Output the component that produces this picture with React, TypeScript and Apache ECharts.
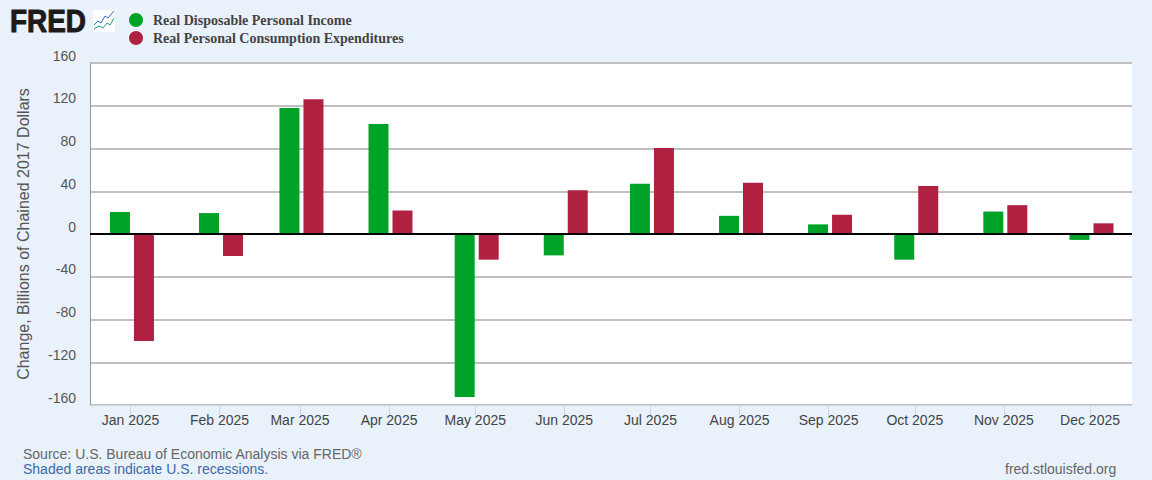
import React, { useEffect, useRef } from "react";
import * as echarts from "echarts";

const monthStarts = ["2025-01-01","2025-02-01","2025-03-01","2025-04-01","2025-05-01","2025-06-01","2025-07-01","2025-08-01","2025-09-01","2025-10-01","2025-11-01","2025-12-01"];
const monthLabels = ["Jan 2025","Feb 2025","Mar 2025","Apr 2025","May 2025","Jun 2025","Jul 2025","Aug 2025","Sep 2025","Oct 2025","Nov 2025","Dec 2025"];
const incomeValues = [20.6,19.6,118,103,-152.5,-20,47,17,9,-24,21,-5.5];
const spendingValues = [-100,-20.6,126,22,-24,41,80.5,48,18,45,27,10];
const incomeName = "Real Disposable Personal Income";
const spendingName = "Real Personal Consumption Expenditures";

const ts = (s: string) => new Date(s + "T00:00:00Z").getTime();
const barTime = (s: string) => new Date(s + "T12:00:00Z").getTime();
const labelByTime = new Map(monthStarts.map((m, i) => [ts(m), monthLabels[i]]));

export default function App() {
  const ref = useRef<HTMLDivElement>(null);
  useEffect(() => {
    document.body.style.margin = "0";
    const chart = echarts.init(ref.current!, undefined, { renderer: "svg" });
    const sans = "'Liberation Sans', Arial, sans-serif";
    chart.setOption({
      animation: false,
      backgroundColor: "#e9f1fa",
      grid: { left: 90, right: 20, top: 63, bottom: 75, show: true, backgroundColor: "#ffffff", borderWidth: 0 },
      legend: {
        orient: "vertical", left: 124, top: 8, itemWidth: 14, itemHeight: 14, itemGap: 4, icon: "circle",
        selectedMode: false,
        textStyle: { fontFamily: "'Liberation Serif', 'Times New Roman', serif", fontWeight: "bold", fontSize: 14, color: "#444444", padding: [0, 0, 0, 5] },
        data: [incomeName, spendingName],
      },
      xAxis: {
        type: "value",
        scale: true,
        min: ts("2025-01-01") - 14.1 * 86400000,
        max: ts("2025-12-01") + 14.6 * 86400000,
        axisLine: { onZero: false, lineStyle: { color: "#ccd6eb", width: 1 } },
        axisTick: { show: true, length: 10, lineStyle: { color: "#ccd6eb" }, customValues: monthStarts.map(ts) },
        splitLine: { show: false },
        axisLabel: {
          customValues: monthStarts.map(ts), fontFamily: sans, fontSize: 14, color: "#444444", margin: 8, hideOverlap: false,
          formatter: (v: number) => labelByTime.get(v) ?? "",
        },
      },
      yAxis: {
        type: "value", min: -160, max: 160, interval: 40,
        name: "Change, Billions of Chained 2017 Dollars", nameLocation: "middle", nameGap: 59, nameRotate: 90,
        nameTextStyle: { fontFamily: sans, fontSize: 16, color: "#555555" },
        axisLine: { show: true, lineStyle: { color: "#999999", width: 1 } },
        axisTick: { show: false },
        splitLine: { show: true, lineStyle: { color: "#c0c0c0", width: 2 } },
        axisLabel: { fontFamily: sans, fontSize: 14, color: "#555555", margin: 14, verticalAlign: "bottom", lineHeight: 15 },
      },
      series: [
        {
          name: incomeName, type: "bar", barWidth: 20, barGap: "20%", itemStyle: { color: "#00a328" },
          data: monthStarts.map((m, i) => [barTime(m), incomeValues[i]]),
          markLine: {
            silent: true, symbol: "none", label: { show: false }, animation: false,
            lineStyle: { color: "#000000", width: 2, type: "solid" }, data: [{ yAxis: 0 }],
          },
        },
        {
          name: spendingName, type: "bar", barWidth: 20, barGap: "20%", itemStyle: { color: "#b02040" },
          data: monthStarts.map((m, i) => [barTime(m), spendingValues[i]]),
        },
      ],
      graphic: [
        { type: "text", x: 10, y: 5, scaleX: 0.9, style: { text: "FRED", fontFamily: "'Liberation Sans', sans-serif", fontWeight: "bold", fontSize: 31, fill: "#1c1a1a", stroke: "#1c1a1a", lineWidth: 1 } },
        { type: "rect", shape: { x: 93, y: 10, width: 22, height: 22 }, style: { fill: "#ffffff" } },
        { type: "polyline", shape: { points: [[94,25],[98,21],[101,23],[105,16],[108,18],[114,11]] }, style: { fill: "none", stroke: "#2a6fdb", lineWidth: 1 } },
        { type: "polyline", shape: { points: [[94,29],[99,26],[103,28],[107,23],[110,25],[114,18]] }, style: { fill: "none", stroke: "#1d9a8a", lineWidth: 1 } },
        { type: "text", left: 23, top: 447, style: { text: "Source: U.S. Bureau of Economic Analysis via FRED®", fontFamily: sans, fontSize: 14, fill: "#666666" } },
        { type: "text", left: 23, top: 462, style: { text: "Shaded areas indicate U.S. recessions.", fontFamily: sans, fontSize: 14, fill: "#3b6aa8" } },
        { type: "text", left: 1005, top: 462, style: { text: "fred.stlouisfed.org", fontFamily: sans, fontSize: 14, fill: "#666666" } },
      ],
    });
    return () => chart.dispose();
  }, []);
  return <div ref={ref} style={{ width: 1152, height: 480 }} />;
}
